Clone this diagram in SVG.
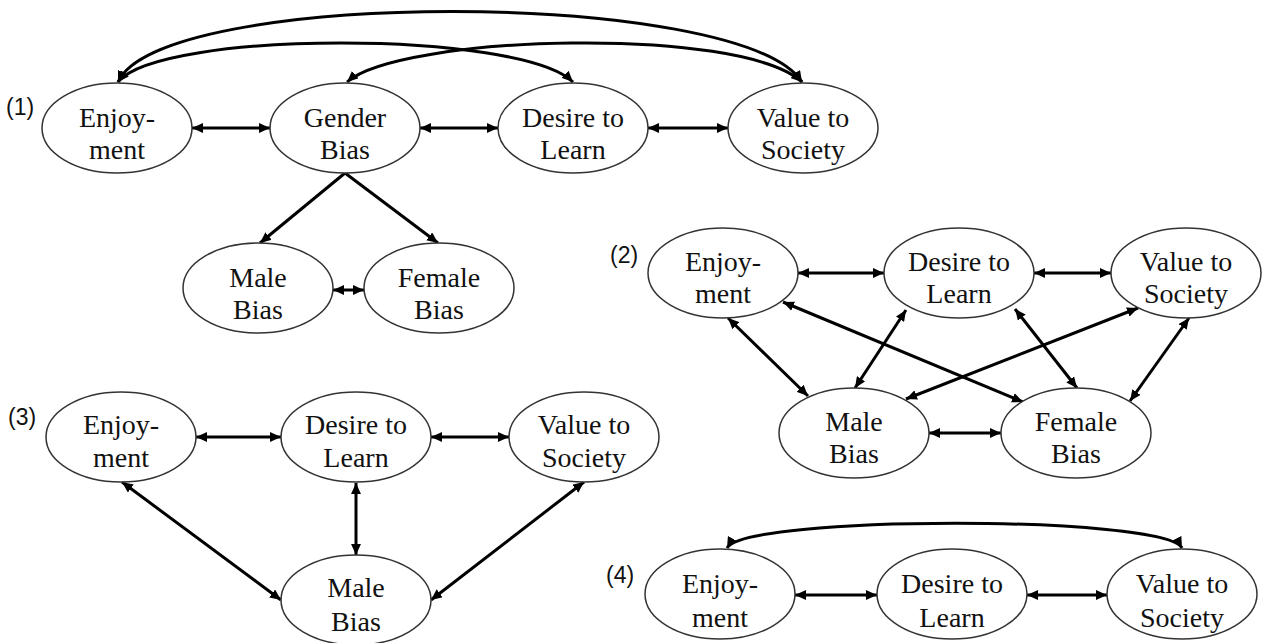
<svg xmlns="http://www.w3.org/2000/svg" width="1262" height="643" viewBox="0 0 1262 643">
<defs>
<marker id="ah" viewBox="0 0 10 9" refX="10" refY="4.5" markerUnits="userSpaceOnUse" markerWidth="11" markerHeight="10" orient="auto-start-reverse">
<path d="M0,0 L10,4.5 L0,9 z" fill="#000"/>
</marker>
<style>
.node ellipse{fill:#fff;stroke:#333;stroke-width:1.5}
.node text{font-family:"Liberation Serif","Times New Roman",serif;font-size:28px;fill:#111;text-anchor:middle}
.lbl{font-family:"Liberation Sans",Arial,sans-serif;font-size:23px;fill:#111}
.e{fill:none;stroke:#000;stroke-width:3}
.b{marker-start:url(#ah);marker-end:url(#ah)}
.s{marker-end:url(#ah)}
</style>
</defs>
<rect width="1262" height="643" fill="#fff"/>

<g id="labels">
<text class="lbl" x="6" y="115">(1)</text>
<text class="lbl" x="610" y="263">(2)</text>
<text class="lbl" x="8" y="425">(3)</text>
<text class="lbl" x="606" y="583">(4)</text>
</g>

<g id="connectors">
<!-- panel 1 -->
<path class="e b" d="M118,82 C160,-12 740,-12 802,82"/>
<path class="e b" d="M118,82 C160,30 520,30 573,82"/>
<path class="e b" d="M347,82 C400,35 740,25 802,82"/>
<line class="e b" x1="192" y1="128" x2="270" y2="128"/>
<line class="e b" x1="420" y1="128" x2="498" y2="128"/>
<line class="e b" x1="648" y1="128" x2="728" y2="128"/>
<line class="e s" x1="345" y1="173" x2="260" y2="243"/>
<line class="e s" x1="345" y1="173" x2="438" y2="243"/>
<line class="e b" x1="333" y1="290" x2="364" y2="290"/>
<!-- panel 2 -->
<line class="e b" x1="798" y1="273" x2="884" y2="273"/>
<line class="e b" x1="1034" y1="273" x2="1111" y2="273"/>
<line class="e b" x1="929" y1="433" x2="1001" y2="433"/>
<line class="e b" x1="728" y1="318" x2="808" y2="396"/>
<line class="e b" x1="783" y1="302" x2="1023" y2="402"/>
<line class="e b" x1="906" y1="310" x2="855" y2="388"/>
<line class="e b" x1="1138" y1="308" x2="906" y2="399"/>
<line class="e b" x1="1015" y1="309" x2="1077" y2="388"/>
<line class="e b" x1="1189" y1="318" x2="1130" y2="401"/>
<!-- panel 3 -->
<line class="e b" x1="196" y1="437" x2="281" y2="437"/>
<line class="e b" x1="431" y1="437" x2="509" y2="437"/>
<line class="e b" x1="122" y1="482" x2="281" y2="600"/>
<line class="e b" x1="356" y1="483" x2="356" y2="555"/>
<line class="e b" x1="584" y1="482" x2="431" y2="600"/>
<!-- panel 4 -->
<path class="e b" d="M727,548 C745,515 1165,515 1182,548"/>
<line class="e b" x1="795" y1="595" x2="877" y2="595"/>
<line class="e b" x1="1027" y1="595" x2="1107" y2="595"/>
</g>

<!-- panel 1 nodes -->
<g id="p1-enjoyment" class="node"><ellipse cx="117" cy="128" rx="75" ry="45"/><text x="117" y="127">Enjoy-</text><text x="117" y="159">ment</text></g>
<g id="p1-gender-bias" class="node"><ellipse cx="345" cy="128" rx="75" ry="45"/><text x="345" y="127">Gender</text><text x="345" y="159">Bias</text></g>
<g id="p1-desire" class="node"><ellipse cx="573" cy="128" rx="75" ry="45"/><text x="573" y="127">Desire to</text><text x="573" y="159">Learn</text></g>
<g id="p1-value" class="node"><ellipse cx="803" cy="128" rx="75" ry="45"/><text x="803" y="127">Value to</text><text x="803" y="159">Society</text></g>
<g id="p1-male-bias" class="node"><ellipse cx="258" cy="288" rx="75" ry="45"/><text x="258" y="287">Male</text><text x="258" y="319">Bias</text></g>
<g id="p1-female-bias" class="node"><ellipse cx="439" cy="288" rx="75" ry="45"/><text x="439" y="287">Female</text><text x="439" y="319">Bias</text></g>

<!-- panel 2 nodes -->
<g id="p2-enjoyment" class="node"><ellipse cx="723" cy="273" rx="75" ry="45"/><text x="723" y="271">Enjoy-</text><text x="723" y="303">ment</text></g>
<g id="p2-desire" class="node"><ellipse cx="959" cy="273" rx="75" ry="45"/><text x="959" y="271">Desire to</text><text x="959" y="303">Learn</text></g>
<g id="p2-value" class="node"><ellipse cx="1186" cy="273" rx="75" ry="45"/><text x="1186" y="271">Value to</text><text x="1186" y="303">Society</text></g>
<g id="p2-male-bias" class="node"><ellipse cx="854" cy="433" rx="75" ry="45"/><text x="854" y="431">Male</text><text x="854" y="463">Bias</text></g>
<g id="p2-female-bias" class="node"><ellipse cx="1076" cy="433" rx="75" ry="45"/><text x="1076" y="431">Female</text><text x="1076" y="463">Bias</text></g>

<!-- panel 3 nodes -->
<g id="p3-enjoyment" class="node"><ellipse cx="121" cy="437" rx="75" ry="45"/><text x="121" y="434">Enjoy-</text><text x="121" y="467">ment</text></g>
<g id="p3-desire" class="node"><ellipse cx="356" cy="437" rx="75" ry="45"/><text x="356" y="434">Desire to</text><text x="356" y="467">Learn</text></g>
<g id="p3-value" class="node"><ellipse cx="584" cy="437" rx="75" ry="45"/><text x="584" y="434">Value to</text><text x="584" y="467">Society</text></g>
<g id="p3-male-bias" class="node"><ellipse cx="356" cy="600" rx="75" ry="45"/><text x="356" y="597">Male</text><text x="356" y="631">Bias</text></g>

<!-- panel 4 nodes -->
<g id="p4-enjoyment" class="node"><ellipse cx="720" cy="594" rx="75" ry="45"/><text x="720" y="593">Enjoy-</text><text x="720" y="627">ment</text></g>
<g id="p4-desire" class="node"><ellipse cx="952" cy="594" rx="75" ry="45"/><text x="952" y="593">Desire to</text><text x="952" y="627">Learn</text></g>
<g id="p4-value" class="node"><ellipse cx="1182" cy="594" rx="75" ry="45"/><text x="1182" y="593">Value to</text><text x="1182" y="627">Society</text></g>
</svg>
